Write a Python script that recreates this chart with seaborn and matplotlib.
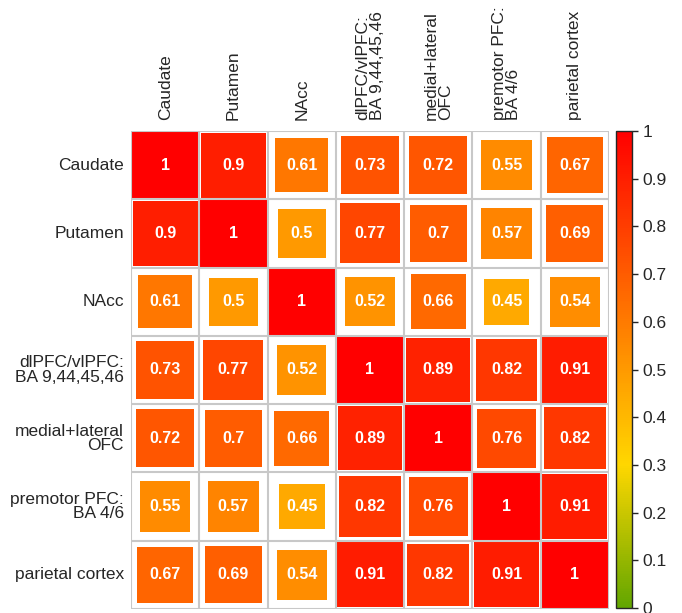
import numpy as np
import pandas as pd
import seaborn as sns
import matplotlib.pyplot as plt
from matplotlib.colors import LinearSegmentedColormap, Normalize
from matplotlib.cm import ScalarMappable

regions = ["Caudate", "Putamen", "NAcc", "dlPFC/vlPFC:\nBA 9,44,45,46",
           "medial+lateral\nOFC", "premotor PFC:\nBA 4/6", "parietal cortex"]
corr = [
    [1, 0.9, 0.61, 0.73, 0.72, 0.55, 0.67],
    [0.9, 1, 0.5, 0.77, 0.7, 0.57, 0.69],
    [0.61, 0.5, 1, 0.52, 0.66, 0.45, 0.54],
    [0.73, 0.77, 0.52, 1, 0.89, 0.82, 0.91],
    [0.72, 0.7, 0.66, 0.89, 1, 0.76, 0.82],
    [0.55, 0.57, 0.45, 0.82, 0.76, 1, 0.91],
    [0.67, 0.69, 0.54, 0.91, 0.82, 0.91, 1],
]
cbar_ticks = [0, 0.1, 0.2, 0.3, 0.4, 0.5, 0.6, 0.7, 0.8, 0.9, 1]

sns.set_style("white")
plt.rcParams["font.family"] = ["Liberation Sans", "DejaVu Sans"]

cmap = LinearSegmentedColormap.from_list(
    "gyr", [(0, "#62a600"), (0.3, "#ffd700"), (1, "#ff0000")])

n = len(regions)
df = pd.DataFrame(corr)
long = df.reset_index().melt(id_vars="index", var_name="col", value_name="r")
long = long.rename(columns={"index": "row"})
long["col"] = long["col"].astype(int)

W, H = 682, 613
fig = plt.figure(figsize=(W / 100, H / 100), dpi=100)
ax = fig.add_axes([131 / W, (H - 609) / H, 478 / W, 478 / H])
cax = fig.add_axes([616 / W, (H - 608) / H, 16 / W, 477 / H])

# square side ~ sqrt(r) * cell, marker area in pt^2
cell_pt = 478 / n * 72 / 100
sns.scatterplot(data=long, x="col", y="row", hue="r", palette=cmap, hue_norm=(0, 1),
                size="r", sizes=(0, cell_pt ** 2), size_norm=(0, 1),
                marker="s", linewidth=0, legend=False, ax=ax, zorder=2)

for _, rw in long.iterrows():
    ax.text(rw["col"], rw["row"], f"{rw['r']:g}", ha="center", va="center",
            color="white", fontsize=11.5, fontweight="bold", zorder=4)

edges = np.arange(n + 1) - 0.5
ax.hlines(edges, -0.5, n - 0.5, color="#c8c8c8", lw=1.5, zorder=3)
ax.vlines(edges, -0.5, n - 0.5, color="#c8c8c8", lw=1.5, zorder=3)

ax.set_xlim(-0.5, n - 0.5)
ax.set_ylim(n - 0.5, -0.5)
for s in ax.spines.values():
    s.set_visible(False)
ax.xaxis.tick_top()
ax.set_xticks(range(n))
ax.set_xticklabels(regions, rotation=90, ha="center", va="bottom",
                   multialignment="left", linespacing=0.95)
ax.set_yticks(range(n))
ax.set_yticklabels(regions, ha="right", va="center", multialignment="right",
                   linespacing=0.95)
ax.tick_params(axis="x", length=0, pad=8, labelsize=12.5)
ax.tick_params(axis="y", length=0, pad=5, labelsize=12.5)
ax.set_xlabel("")
ax.set_ylabel("")

cb = fig.colorbar(ScalarMappable(norm=Normalize(0, 1), cmap=cmap), cax=cax)
cb.set_ticks(cbar_ticks)
cb.set_ticklabels([f"{t:g}" for t in cbar_ticks])
cb.ax.tick_params(labelsize=12.5, length=4, width=1, direction="out")
cb.outline.set_linewidth(1)

fig.savefig("out.png", dpi=100)
